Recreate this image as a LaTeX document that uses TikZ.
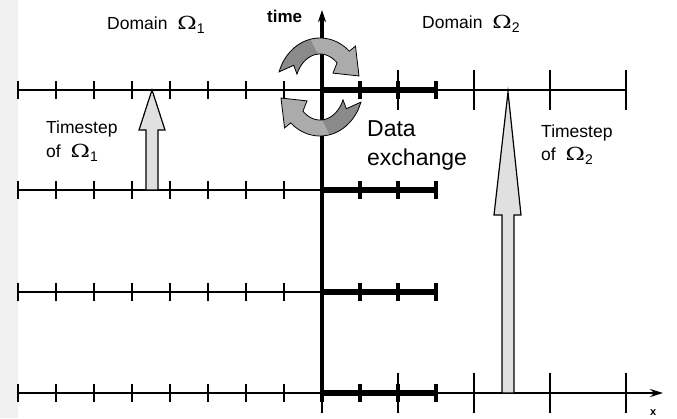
\documentclass[tikz,border=0pt]{standalone}
\usepackage{fontspec}
\usepackage{graphicx}
\setmainfont{Liberation Sans}
\newfontfamily\omfont{DejaVu Serif}
\usetikzlibrary{arrows.meta}

\newcommand{\omg}[1]{\hspace{5pt}{\omfont\fontsize{18}{18}\selectfont\scalebox{1.3}[1]{Ω}}\raisebox{-4pt}{\fontsize{14}{14}\selectfont #1}}
\newcommand{\turnshape}{plot[domain=162:47,samples=30] ({320+43*cos(\x)},{87-49*sin(\x)})
  -- ({320+52*cos(47)},{87-56*sin(47)}) -- (359,76) -- ({320+19*cos(47)},{87-19*sin(47)})
  -- plot[domain=47:157,samples=30] ({320+25*cos(\x)},{87-33*sin(\x)})
  -- ({320+31*cos(148)},{87-41*sin(148)}) -- cycle}

\tikzset{
  gridline/.style={line width=2pt},
  shorttick/.style={line width=1.6pt},
  longtick/.style={line width=1.3pt},
  xline/.style={line width=6pt},
  xtick/.style={line width=4.5pt},
  blockarrow/.style={draw,line width=1.2pt,fill=black!12},
  txt/.style={anchor=base west,inner sep=0pt,font=\fontsize{17.5}{20}\selectfont},
  bigtxt/.style={txt,font=\fontsize{23}{26}\selectfont}
}

\begin{document}
\begin{tikzpicture}[x=1pt,y=-1pt]
      \useasboundingbox (0,0) rectangle (677,418);
      \fill[black!6] (0,0) rectangle (18,418);

      \foreach \y in {90,190,292,393} {
        \draw[gridline] (18,\y) -- (322,\y);
        \foreach \x in {18,56,...,322}
          \draw[shorttick] (\x,\y-9) -- (\x,\y+9);
      }
      \draw[gridline] (322,90) -- (625,90);
      \draw[gridline,-{Stealth[length=13pt,width=8pt]}] (322,393) -- (663,393);
      \foreach \y in {90,393}
        \foreach \x in {322,398,...,626}
          \draw[longtick] (\x,\y-20) -- (\x,\y+20);

      \draw[line width=3.5pt,-{Stealth[length=12pt,width=8pt]}] (322,400) -- (322,10);

      \foreach \y in {90,190,292,393} {
        \draw[xline] (322,\y) -- (436,\y);
        \foreach \x in {322,360,398,436}
          \draw[xtick] (\x,\y-9) -- (\x,\y+9);
      }

      \draw[blockarrow] (146,190) -- (146,130) -- (139,130) -- (152,90) -- (165,130)
        -- (158,130) -- (158,190) -- cycle;
      \draw[blockarrow] (502,393) -- (502,215) -- (494,215) -- (508,92) -- (521,215)
        -- (514,215) -- (514,393) -- cycle;

      \foreach \r in {0,180} {
        \begin{scope}[rotate around={\r:(320,87)}]
          \fill[black!33] \turnshape;
          \fill[black!46] plot[domain=162:103,samples=20] ({320+43*cos(\x)},{87-49*sin(\x)})
            -- plot[domain=95:157,samples=20] ({320+25*cos(\x)},{87-33*sin(\x)})
            -- ({320+31*cos(148)},{87-41*sin(148)}) -- cycle;
          \draw[line width=0.8pt] \turnshape;
        \end{scope}
      }

      \node[txt] (dom1) at (107,29) {Domain \omg{1}};
      \node[txt] (dom2) at (422,28) {Domain \omg{2}};
      \node[txt,font=\fontsize{17}{20}\selectfont\bfseries] (time) at (267,22) {time};
      \node[txt] (step1a) at (46,133) {Timestep};
      \node[txt] (step1b) at (46,157) {of \omg{1}};
      \node[bigtxt] (data1) at (367,136) {Data};
      \node[bigtxt] (data2) at (367,165) {exchange};
      \node[txt] (step2a) at (541,137) {Timestep};
      \node[txt] (step2b) at (541,160) {of \omg{2}};
      \node[txt,font=\fontsize{11}{13}\selectfont\bfseries] (xlab) at (650,415) {x};

    \end{tikzpicture}
\end{document}
